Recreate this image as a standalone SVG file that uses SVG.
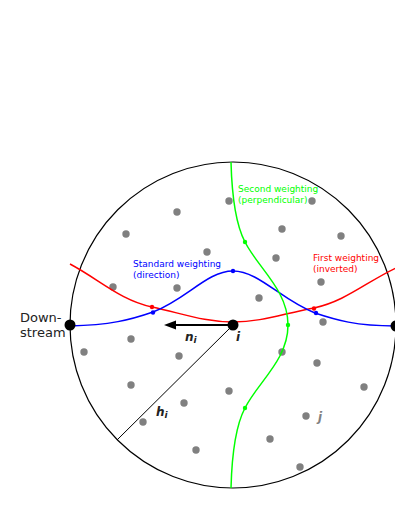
<svg xmlns="http://www.w3.org/2000/svg" width="395" height="511" viewBox="0 0 395 511">
<style>
.dot{fill:#808080}
.node{fill:#000}
.lbl{font-family:"DejaVu Sans",Verdana,sans-serif;font-size:9px}
.big{font-family:"DejaVu Sans",Verdana,sans-serif;font-size:13px;fill:#222}
.math{font-family:"DejaVu Sans",Verdana,sans-serif;font-weight:bold;font-style:italic;font-size:12px;fill:#222}
.sub{font-size:9px}
.c{fill:none;stroke-width:1.5}
</style>
<defs>
<marker id="ah" viewBox="0 0 12 8" refX="1" refY="4" markerWidth="12" markerHeight="8" markerUnits="userSpaceOnUse" orient="auto">
<path d="M12,0 L0,4 L12,8 Z" fill="#000"/>
</marker>
</defs>
<g id="boundary">
<circle cx="233" cy="325" r="163" fill="none" stroke="#000" stroke-width="1.2"/>
</g>
<g id="neighbours">
<circle class="dot" cx="177" cy="212" r="3.7"/>
<circle class="dot" cx="126" cy="234" r="3.7"/>
<circle class="dot" cx="229" cy="201" r="3.7"/>
<circle class="dot" cx="312" cy="201" r="3.7"/>
<circle class="dot" cx="282" cy="229" r="3.7"/>
<circle class="dot" cx="341" cy="236" r="3.7"/>
<circle class="dot" cx="207" cy="252" r="3.7"/>
<circle class="dot" cx="276" cy="258" r="3.7"/>
<circle class="dot" cx="113" cy="287" r="3.7"/>
<circle class="dot" cx="177" cy="288" r="3.7"/>
<circle class="dot" cx="321" cy="282" r="3.7"/>
<circle class="dot" cx="259" cy="298" r="3.7"/>
<circle class="dot" cx="323" cy="322" r="3.7"/>
<circle class="dot" cx="131" cy="339" r="3.7"/>
<circle class="dot" cx="84" cy="352" r="3.7"/>
<circle class="dot" cx="179" cy="356" r="3.7"/>
<circle class="dot" cx="282" cy="352" r="3.7"/>
<circle class="dot" cx="317" cy="363" r="3.7"/>
<circle class="dot" cx="364" cy="387" r="3.7"/>
<circle class="dot" cx="131" cy="385" r="3.7"/>
<circle class="dot" cx="229" cy="391" r="3.7"/>
<circle class="dot" cx="184" cy="403" r="3.7"/>
<circle class="dot" cx="143" cy="422" r="3.7"/>
<circle class="dot" cx="306" cy="416" r="3.7"/>
<circle class="dot" cx="270" cy="439" r="3.7"/>
<circle class="dot" cx="196" cy="450" r="3.7"/>
<circle class="dot" cx="300" cy="467" r="3.7"/>
</g>
<g id="connectors">
<path class="c" stroke="#ff0000" d="M70,264 C100,280 120,300 152,307 C184,314 205,322 233,322 C261,322 282,314 314,308 C346,301 366,282 396,268"/>
<path class="c" stroke="#0000ff" d="M70,326 C110,325 130,320 153,312 C187,299 207,271 233,271 C259,271 281,300 315,313 C336,320 356,326 396,326"/>
<path class="c" stroke="#00ff00" d="M231,162 C232,200 236,225 245,242 C258,268 288,290 288,325 C288,360 258,382 245,408 C236,425 232,450 231,488"/>
<line x1="233" y1="325" x2="117" y2="440" stroke="#000" stroke-width="1"/>
<line x1="233" y1="325" x2="176" y2="325" stroke="#000" stroke-width="2"/>
<path d="M164,325 L176,320.5 L176,329.5 Z" fill="#000"/>
<circle cx="152" cy="307" r="2.2" fill="#ff0000"/>
<circle cx="314" cy="308.5" r="2.2" fill="#ff0000"/>
<circle cx="153" cy="312.5" r="2.2" fill="#0000ff"/>
<circle cx="233" cy="271" r="2.2" fill="#0000ff"/>
<circle cx="316" cy="313" r="2.2" fill="#0000ff"/>
<circle cx="245" cy="242" r="2.2" fill="#00ff00"/>
<circle cx="288" cy="325" r="2.2" fill="#00ff00"/>
<circle cx="245" cy="408" r="2.2" fill="#00ff00"/>
</g>
<g id="node-i">
<circle class="node" cx="233" cy="325" r="5.5"/>
<text class="math" x="236" y="341">i</text>
</g>
<g id="node-downstream">
<circle class="node" cx="70" cy="325" r="5.5"/>
<text class="big" x="20" y="322">Down-</text>
<text class="big" x="20" y="337">stream</text>
</g>
<g id="node-right">
<circle class="node" cx="396" cy="326" r="5.5"/>
</g>
<g id="labels">
<text class="lbl" x="133" y="267" fill="#0000ff">Standard weighting</text>
<text class="lbl" x="133" y="278" fill="#0000ff">(direction)</text>
<text class="lbl" x="238" y="192" fill="#00ff00">Second weighting</text>
<text class="lbl" x="238" y="203" fill="#00ff00">(perpendicular)</text>
<text class="lbl" x="313" y="261" fill="#ff0000">First weighting</text>
<text class="lbl" x="313" y="272" fill="#ff0000">(inverted)</text>
<text class="math" x="185" y="341">n<tspan class="sub" dy="2">i</tspan></text>
<text class="math" x="156" y="416">h<tspan class="sub" dy="2">i</tspan></text>
<text class="math" x="318" y="421" fill="#808080" style="fill:#808080">j</text>
</g>
</svg>
